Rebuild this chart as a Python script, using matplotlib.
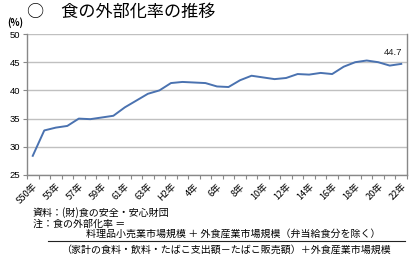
import matplotlib
matplotlib.use("Agg")
import matplotlib.pyplot as plt

plt.rcParams['font.family'] = ['Noto Sans CJK JP', 'DejaVu Sans']

# 年次(昭和・平成)
years = ["S50年", "54年", "55年", "56年", "57年", "58年", "59年", "60年", "61年", "62年",
         "63年", "H1年", "H2年", "3年", "4年", "5年", "6年", "7年", "8年", "9年",
         "10年", "11年", "12年", "13年", "14年", "15年", "16年", "17年", "18年", "19年",
         "20年", "21年", "22年"]
# 食の外部化率 (%)
ratio = [28.4, 32.9, 33.4, 33.7, 35.0, 34.9, 35.2, 35.5, 37.0, 38.2,
         39.4, 40.0, 41.3, 41.5, 41.4, 41.3, 40.7, 40.6, 41.8, 42.6,
         42.3, 42.0, 42.2, 42.9, 42.8, 43.1, 42.9, 44.2, 45.0, 45.3,
         45.0, 44.4, 44.7]
last_label = "44.7"

fig = plt.figure(figsize=(4.17, 2.68), dpi=100)
ax = fig.add_axes([27 / 417, 1 - 175 / 268, 380 / 417, 141 / 268])

xs = list(range(len(years)))
ax.plot(xs, ratio, color='#4a72b0', lw=1.4, zorder=3)
ax.text(xs[-1] - 0.7, ratio[-1] + 1.3, last_label, fontsize=6.8, ha='center', va='bottom',
        color='#222222', family=['Liberation Sans', 'DejaVu Sans'])

ax.set_xlim(-0.5, len(years) - 0.5)
ax.set_ylim(25, 50)
ax.set_yticks([25, 30, 35, 40, 45, 50])
ax.tick_params(axis='y', labelsize=6.8, length=3, width=0.8, color='#888888', pad=2)
for lab in ax.get_yticklabels():
    lab.set_family(['Liberation Sans', 'DejaVu Sans'])
ax.grid(axis='y', color='#c0c0c0', lw=1.0)
ax.set_axisbelow(True)

ax.set_xticks(xs[::2])
ax.set_xticklabels(years[::2], rotation=45, ha='right', rotation_mode='anchor', fontsize=6.6)
ax.set_xticks([i - 0.5 for i in range(len(years) + 1)], minor=True)
ax.tick_params(axis='x', which='major', length=0, pad=5)
ax.tick_params(axis='x', which='minor', length=3, width=0.8, color='#888888')

for s in ['left', 'bottom', 'right']:
    ax.spines[s].set_color('#888888')
    ax.spines[s].set_linewidth(1.0)
ax.spines['top'].set_visible(False)

fig.text(27 / 417, 1 - 12 / 268, "○　食の外部化率の推移", fontsize=12.3, va='center', ha='left')
fig.text(7 / 417, 1 - 23 / 268, "(%)", fontsize=6.8, va='center', ha='left', fontweight='bold')

fig.text(33 / 417, 1 - 213 / 268, "資料：(財)食の安全・安心財団", fontsize=7.2, va='center')
fig.text(33 / 417, 1 - 224 / 268, "注：食の外部化率 ＝", fontsize=7.2, va='center')
fig.text(233 / 417, 1 - 233.5 / 268, "料理品小売業市場規模 ＋ 外食産業市場規模（弁当給食分を除く）",
         fontsize=7.2, va='center', ha='center')
fig.add_artist(plt.Line2D([48 / 417, 405 / 417], [1 - 241 / 268, 1 - 241 / 268],
                          color='#222222', lw=0.8))
fig.text(226 / 417, 1 - 249.5 / 268, "（家計の食料・飲料・たばこ支出額－たばこ販売額）＋外食産業市場規模",
         fontsize=7.2, va='center', ha='center')

fig.savefig("out.png", dpi=100)
